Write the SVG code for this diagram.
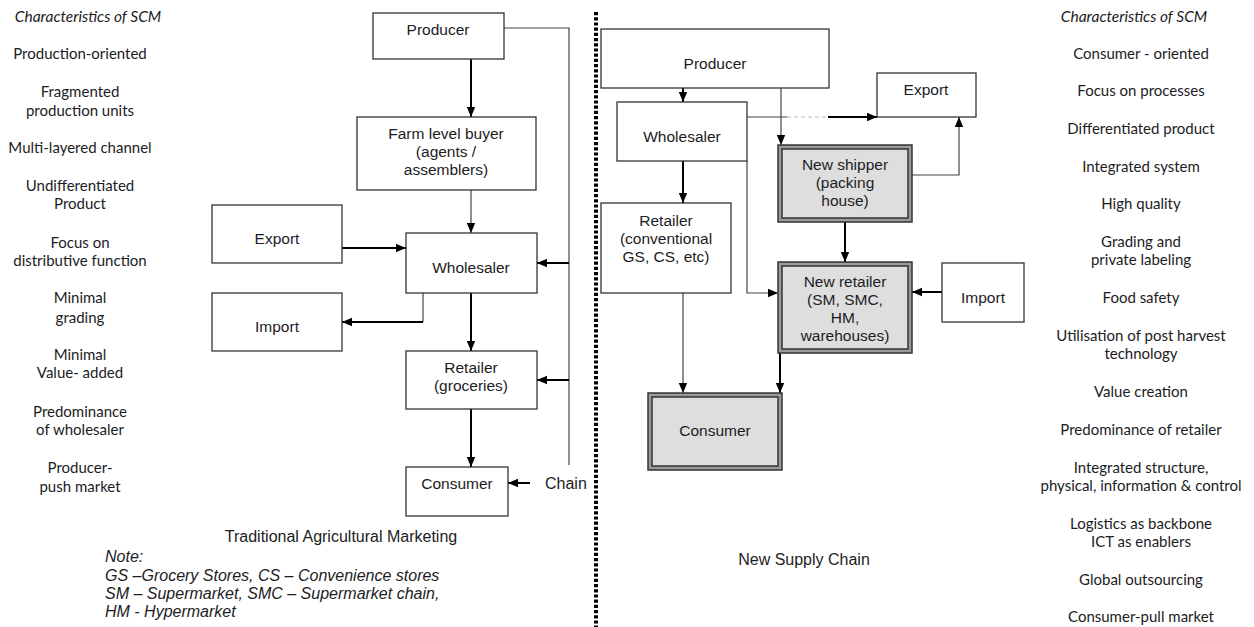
<svg xmlns="http://www.w3.org/2000/svg" width="1254" height="627" viewBox="0 0 1254 627">
<style>
.box{fill:#fff;stroke:#333;stroke-width:1.3}
.outer{fill:#9a9a9a;stroke:#333;stroke-width:1.5}
.inner{fill:#dedede;stroke:#333;stroke-width:1.5}
.t{font-family:"Liberation Sans",Arial,sans-serif;font-size:15.5px;fill:#1c1c24;text-anchor:middle}
.lbl{font-family:"Liberation Sans",Arial,sans-serif;font-size:16px;fill:#1c1c24}
.note{font-family:"Liberation Sans",Arial,sans-serif;font-size:16px;font-style:italic;fill:#1c1c24}
.c{font-family:Lato,"Open Sans",sans-serif;font-size:15px;fill:#1c1c24;text-anchor:middle}
.ci{font-family:Lato,"Open Sans",sans-serif;font-size:15.5px;font-style:italic;fill:#1c1c24;text-anchor:middle}
.thick{fill:none;stroke:#000;stroke-width:2}
.thin{fill:none;stroke:#444;stroke-width:1.2}
</style>
<defs>
<marker id="ah" markerUnits="userSpaceOnUse" markerWidth="10" markerHeight="10" refX="10" refY="5" orient="auto">
<path d="M0,0.8 L10,5 L0,9.2 z" fill="#000"/>
</marker>
</defs>
<rect width="1254" height="627" fill="#fff"/>

<!-- left characteristics -->
<g id="left-characteristics">
<text class="ci" x="88" y="22">Characteristics of  SCM</text>
<text class="c" x="80" y="59">Production-oriented</text>
<text class="c" x="80" y="97">Fragmented</text>
<text class="c" x="80" y="116">production units</text>
<text class="c" x="80" y="153">Multi-layered channel</text>
<text class="c" x="80" y="191">Undifferentiated</text>
<text class="c" x="80" y="209">Product</text>
<text class="c" x="80" y="248">Focus on</text>
<text class="c" x="80" y="266">distributive function</text>
<text class="c" x="80" y="303">Minimal</text>
<text class="c" x="80" y="323">grading</text>
<text class="c" x="80" y="360">Minimal</text>
<text class="c" x="80" y="378">Value- added</text>
<text class="c" x="80" y="417">Predominance</text>
<text class="c" x="80" y="435">of wholesaler</text>
<text class="c" x="80" y="473">Producer-</text>
<text class="c" x="80" y="492">push market</text>
</g>

<!-- right characteristics -->
<g id="right-characteristics">
<text class="ci" x="1134" y="22">Characteristics of  SCM</text>
<text class="c" x="1141" y="59">Consumer - oriented</text>
<text class="c" x="1141" y="96">Focus on processes</text>
<text class="c" x="1141" y="134">Differentiated product</text>
<text class="c" x="1141" y="172">Integrated system</text>
<text class="c" x="1141" y="209">High quality</text>
<text class="c" x="1141" y="247">Grading and</text>
<text class="c" x="1141" y="265">private labeling</text>
<text class="c" x="1141" y="303">Food safety</text>
<text class="c" x="1141" y="341">Utilisation of post harvest</text>
<text class="c" x="1141" y="359">technology</text>
<text class="c" x="1141" y="397">Value creation</text>
<text class="c" x="1141" y="435">Predominance of retailer</text>
<text class="c" x="1141" y="473">Integrated structure,</text>
<text class="c" x="1141" y="491">physical, information &amp; control</text>
<text class="c" x="1141" y="529">Logistics as backbone</text>
<text class="c" x="1141" y="547">ICT as enablers</text>
<text class="c" x="1141" y="585">Global outsourcing</text>
<text class="c" x="1141" y="622">Consumer-pull market</text>
</g>

<!-- divider -->
<line id="divider" x1="596" y1="12" x2="596" y2="627" stroke="#000" stroke-width="4" stroke-dasharray="3.2 2"/>

<!-- connectors -->
<g id="connectors">
<path class="thick" d="M471,59 V117" marker-end="url(#ah)"/>
<path class="thin" d="M471,190 V233" marker-end="url(#ah)"/>
<path class="thin" d="M504,28 H569 V465"/>
<path class="thick" d="M569,263 H537" marker-end="url(#ah)"/>
<path class="thick" d="M569,380 H537" marker-end="url(#ah)"/>
<path class="thick" d="M342,248 H406" marker-end="url(#ah)"/>
<path class="thin" d="M423,293 V322"/>
<path class="thick" d="M423,322 H342" marker-end="url(#ah)"/>
<path class="thick" d="M471,293 V351" marker-end="url(#ah)"/>
<path class="thick" d="M471,409 V467" marker-end="url(#ah)"/>
<path class="thick" d="M530,483 H508" marker-end="url(#ah)"/>

<path class="thick" d="M683,88 V102" marker-end="url(#ah)"/>
<path class="thin" d="M781,88 V145" marker-end="url(#ah)"/>
<path class="thin" d="M747,117 H787"/>
<path fill="none" stroke="#bbb" stroke-width="1.2" stroke-dasharray="4 3" d="M787,117 H828"/>
<path class="thick" d="M828,117 H877" marker-end="url(#ah)"/>
<path class="thin" d="M912,175 H959 V117" marker-end="url(#ah)"/>
<path class="thick" d="M845,222 V262" marker-end="url(#ah)"/>
<path class="thick" d="M683,161 V203" marker-end="url(#ah)"/>
<path class="thin" d="M747,161 V293 H778" marker-end="url(#ah)"/>
<path class="thick" d="M942,292 H912" marker-end="url(#ah)"/>
<path class="thin" d="M683,293 V393" marker-end="url(#ah)"/>
<path class="thick" d="M780,353 V393" marker-end="url(#ah)"/>
</g>

<!-- left diagram nodes -->
<g id="l-producer"><rect class="box" x="373" y="13" width="131" height="46"/><text class="t" x="438" y="34.5">Producer</text></g>
<g id="l-farm"><rect class="box" x="357" y="117" width="179" height="73"/><text class="t" x="446" y="138.5">Farm level buyer</text><text class="t" x="446" y="156.5">(agents /</text><text class="t" x="446" y="174.5">assemblers)</text></g>
<g id="l-export"><rect class="box" x="212" y="205" width="130" height="58"/><text class="t" x="277" y="243.5">Export</text></g>
<g id="l-wholesaler"><rect class="box" x="406" y="233" width="131" height="60"/><text class="t" x="471" y="272.5">Wholesaler</text></g>
<g id="l-import"><rect class="box" x="212" y="293" width="130" height="58"/><text class="t" x="277" y="331.5">Import</text></g>
<g id="l-retailer"><rect class="box" x="406" y="351" width="131" height="58"/><text class="t" x="471" y="372.5">Retailer</text><text class="t" x="471" y="390.5">(groceries)</text></g>
<g id="l-consumer"><rect class="box" x="406" y="467" width="102" height="49"/><text class="t" x="457" y="488.5">Consumer</text></g>
<g id="l-chain"><text class="lbl" x="545" y="489" font-size="16.5">Chain</text></g>

<!-- right diagram nodes -->
<g id="r-producer"><rect class="box" x="601" y="29" width="228" height="59"/><text class="t" x="715" y="68.5">Producer</text></g>
<g id="r-wholesaler"><rect class="box" x="617" y="102" width="130" height="59"/><text class="t" x="682" y="141.5">Wholesaler</text></g>
<g id="r-export"><rect class="box" x="877" y="73" width="99" height="44"/><text class="t" x="926" y="94.5">Export</text></g>
<g id="r-shipper"><rect class="outer" x="778" y="145" width="134" height="77"/><rect class="inner" x="782" y="149" width="126" height="69"/><text class="t" x="845" y="169.5">New shipper</text><text class="t" x="845" y="187.5">(packing</text><text class="t" x="845" y="205.5">house)</text></g>
<g id="r-retailer"><rect class="box" x="601" y="203" width="130" height="90"/><text class="t" x="666" y="225.5">Retailer</text><text class="t" x="666" y="243.5">(conventional</text><text class="t" x="666" y="261.5">GS, CS, etc)</text></g>
<g id="r-newretailer"><rect class="outer" x="778" y="262" width="134" height="91"/><rect class="inner" x="782" y="266" width="126" height="83"/><text class="t" x="845" y="286.5">New retailer</text><text class="t" x="845" y="304.5">(SM, SMC,</text><text class="t" x="845" y="322.5">HM,</text><text class="t" x="845" y="340.5">warehouses)</text></g>
<g id="r-import"><rect class="box" x="942" y="263" width="82" height="59"/><text class="t" x="983" y="302.5">Import</text></g>
<g id="r-consumer"><rect class="outer" x="648" y="393" width="134" height="77"/><rect class="inner" x="652" y="397" width="126" height="69"/><text class="t" x="715" y="435.5">Consumer</text></g>

<!-- captions -->
<g id="captions">
<text class="lbl" x="341" y="542" text-anchor="middle">Traditional Agricultural Marketing</text>
<text class="lbl" x="804" y="564.5" text-anchor="middle" font-size="15.5">New Supply Chain</text>
<text class="note" x="105" y="562">Note:</text>
<text class="note" x="105" y="581">GS –Grocery Stores, CS – Convenience stores</text>
<text class="note" x="105" y="599">SM – Supermarket, SMC – Supermarket chain,</text>
<text class="note" x="105" y="617">HM - Hypermarket</text>
</g>
</svg>
